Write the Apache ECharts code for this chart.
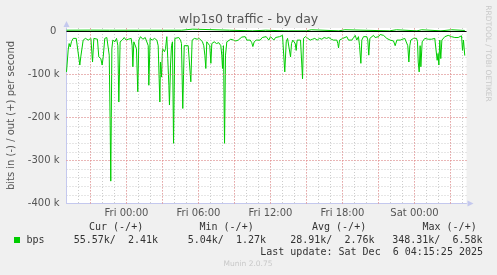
<!DOCTYPE html>
<html><head><meta charset="utf-8">
<script src="https://cdn.jsdelivr.net/npm/echarts@6/dist/echarts.min.js"></script>
<style>html,body{margin:0;padding:0;background:#f0f0f0;}#c{width:497px;height:275px;}</style>
</head><body><div id="c"></div>
<script>
const titleText = 'wlp1s0 traffic - by day';
const yAxisTitle = 'bits in (-) / out (+) per second';
const sideText = 'RRDTOOL / TOBI OETIKER';
// time in hours relative to Fri 00:00
const xMinHours = -5;
const xMaxHours = 28.3333;
const inHours = [-5.00,-4.86,-4.78,-4.69,-4.58,-4.44,-4.36,-4.19,-4.03,-3.89,-3.81,-3.72,-3.61,-3.42,-3.19,-2.97,-2.83,-2.72,-2.56,-2.42,-2.31,-2.14,-2.03,-1.94,-1.81,-1.64,-1.53,-1.44,-1.36,-1.31,-1.22,-1.14,-0.97,-0.83,-0.72,-0.64,-0.53,-0.36,-0.19,-0.03,0.14,0.25,0.39,0.47,0.53,0.61,0.75,0.83,0.94,1.03,1.17,1.36,1.56,1.72,1.81,1.86,1.97,2.14,2.33,2.53,2.64,2.72,2.78,2.83,2.92,3.00,3.08,3.17,3.25,3.36,3.44,3.53,3.58,3.67,3.75,3.83,3.92,4.03,4.19,4.36,4.50,4.58,4.69,4.81,4.97,5.14,5.25,5.36,5.47,5.67,5.89,6.06,6.19,6.33,6.44,6.53,6.61,6.69,6.83,6.94,7.03,7.11,7.31,7.50,7.69,7.86,7.94,8.00,8.08,8.17,8.25,8.36,8.47,8.69,8.92,9.11,9.31,9.47,9.61,9.75,9.89,10.03,10.17,10.31,10.44,10.53,10.64,10.81,10.97,11.14,11.31,11.47,11.64,11.86,12.00,12.14,12.28,12.42,12.58,12.75,12.89,13.00,13.11,13.19,13.31,13.42,13.56,13.67,13.75,13.86,13.97,14.06,14.14,14.22,14.36,14.50,14.58,14.67,14.75,14.92,15.11,15.31,15.50,15.69,15.89,16.08,16.28,16.47,16.67,16.86,17.06,17.25,17.39,17.53,17.61,17.67,17.75,17.86,18.03,18.19,18.36,18.50,18.64,18.78,18.92,19.06,19.19,19.33,19.42,19.53,19.61,19.75,19.89,20.03,20.11,20.19,20.28,20.44,20.58,20.72,20.86,21.00,21.14,21.28,21.42,21.56,21.69,21.83,21.97,22.11,22.25,22.39,22.53,22.67,22.81,22.97,23.19,23.33,23.44,23.53,23.61,23.69,23.81,23.92,24.06,24.17,24.25,24.31,24.39,24.47,24.53,24.64,24.75,24.86,25.00,25.14,25.28,25.42,25.56,25.69,25.81,25.89,25.97,26.03,26.11,26.19,26.28,26.39,26.53,26.67,26.81,26.94,27.08,27.22,27.36,27.50,27.64,27.78,27.92,28.00,28.08,28.19];
// incoming rate, kbit/s (drawn as negative)
const inRateK = [94,43,28,36,23,16,12,16,20,78,59,63,20,16,20,16,71,16,14,18,59,63,78,59,16,14,18,55,218,348,40,20,24,16,33,164,24,20,14,20,18,20,16,33,82,24,24,40,140,20,12,18,14,12,33,125,16,20,16,20,33,109,164,71,106,40,36,47,40,12,63,125,171,78,33,24,260,16,12,14,20,28,179,33,31,33,35,117,20,16,18,16,20,24,33,55,86,24,24,33,74,28,24,28,26,33,55,86,33,260,55,24,20,18,20,22,20,18,13,16,12,20,24,20,26,35,24,20,18,20,14,16,12,20,12,16,20,14,16,12,16,9,10,94,24,16,20,59,28,20,16,28,44,20,16,20,24,110,16,12,16,20,18,16,20,16,18,14,16,14,18,20,16,20,28,38,20,24,16,20,12,20,16,20,14,9,20,12,33,74,20,12,16,12,20,55,16,12,9,14,16,12,7,5,9,12,16,20,20,18,22,33,20,16,20,16,16,20,33,71,33,20,24,16,20,16,24,71,94,33,82,24,20,16,20,18,20,18,22,16,20,67,51,78,20,63,20,16,12,10,9,9,12,16,14,12,14,12,10,44,20,56];
const outHours = [-5,-3,-1.4,-1.3,-1.2,1,3,4.6,4.7,5.5,5.6,8.6,8.7,10.5,10.6,11.6,11.7,13.2,13.3,13.5,15.0,15.1,15.4,15.5,17.7,17.8,18.2,18.3,21.9,22.0,22.5,22.6,24.2,24.3,24.6,24.7,26.2,26.3,27.1,27.2,28.19];
const outRateK = [3,3.2,3,6.5,3,3,3,3,5.5,5.5,3,3,1.5,1.5,3,3,1.5,1.5,4,1.5,1.5,4,4,1.5,1.5,4,4,1.5,1.5,4,4,1.5,1.5,4,4,1.5,1.5,4,4,1.5,2.4];
const xTickHours = [0,6,12,18,24];
const xTickLabels = ['Fri 00:00','Fri 06:00','Fri 12:00','Fri 18:00','Sat 00:00'];
const xMajorGridHours = [-3,0,3,6,9,12,15,18,21,24,27];
const yTickValuesK = [0,-100,-200,-300,-400];
const yTickLabels = ['0 ','-100 k','-200 k','-300 k','-400 k'];
const yMajorGridK = [-100,-200,-300];
const legendName = 'bps';
const legendHeaders = ['Cur (-/+)','Min (-/+)','Avg (-/+)','Max (-/+)'];
const legendIn = ['55.57k','5.04k','28.91k','348.31k'];
const legendOut = ['2.41k','1.27k','2.76k','6.58k'];
const lastUpdate = 'Last update: Sat Dec  6 04:15:25 2025';
const versionText = 'Munin 2.0.75';

const GREEN = '#00cc00', GRAY = '#cccccc', RED = '#ee8888', AXIS = '#c4c8ee';
const TXT = '#555', MONO = '10px "DejaVu Sans Mono"';
const near = (a, b) => Math.abs(a - b) < 1e-6;

const chart = echarts.init(document.getElementById('c'), null, {renderer: 'canvas'});
const headerX = [89, 199.5, 312, 422.5];
const valueRight = [158, 266, 374.5, 482.5];
const center = {align:'center', verticalAlign:'middle', textAlign:'center', textVerticalAlign:'middle'};
const leftMid = {align:'left', verticalAlign:'middle', textAlign:'left', textVerticalAlign:'middle'};
const rightMid = {align:'right', verticalAlign:'middle', textAlign:'right', textVerticalAlign:'middle'};
const graphics = [
  {type:'text', x:248.5, y:19.5, style:Object.assign({text:titleText, font:'12.5px "DejaVu Sans"', fill:TXT}, center)},
  {type:'text', x:11, y:115.5, rotation:Math.PI/2, style:Object.assign({text:yAxisTitle, font:'10px "DejaVu Sans"', fill:TXT}, center)},
  {type:'text', x:487.5, y:53.5, rotation:-Math.PI/2, style:Object.assign({text:sideText, font:'7.5px "DejaVu Sans"', fill:'#c8c8c8'}, center)},
  {type:'rect', shape:{x:14, y:237, width:6, height:6}, style:{fill:GREEN}},
  {type:'text', x:26.5, y:240, style:Object.assign({text:legendName, font:MONO, fill:'#333'}, leftMid)},
  {type:'text', x:483, y:252, style:Object.assign({text:lastUpdate, font:MONO, fill:'#333'}, rightMid)},
  {type:'text', x:248, y:264, style:Object.assign({text:versionText, font:'7.5px "DejaVu Sans"', fill:'#c8c8c8'}, center)}
];
legendHeaders.forEach((h, i) => {
  graphics.push({type:'text', x:headerX[i], y:227.5, style:Object.assign({text:h, font:MONO, fill:'#333'}, leftMid)});
  graphics.push({type:'text', x:valueRight[i], y:240, style:Object.assign({text:legendIn[i] + '/  ' + legendOut[i], font:MONO, fill:'#333'}, rightMid)});
});

chart.setOption({
  animation: false,
  backgroundColor: '#f0f0f0',
  grid: {left:66.5, right:30.5, top:28, bottom:71.5, show:true, backgroundColor:'#ffffff', borderWidth:0},
  xAxis: {
    type:'value', min:xMinHours, max:xMaxHours, interval:1, position:'bottom',
    axisLine:{show:true, onZero:false, lineStyle:{color:AXIS, width:1}, symbol:['none','triangle'], symbolSize:[6,6], symbolOffset:[0,4]},
    axisTick:{show:false},
    axisLabel:{color:TXT, fontFamily:'DejaVu Sans', fontSize:10, margin:5,
      formatter: v => { const i = xTickHours.findIndex(t => near(t, v)); return i >= 0 ? xTickLabels[i] : ''; }},
    splitLine:{show:true, showMinLine:false, showMaxLine:false, lineStyle:{color:GRAY, type:[1,2], width:1}}
  },
  yAxis: {
    type:'value', min:-400, max:350/43, interval:20,
    axisLine:{show:true, onZero:false, lineStyle:{color:AXIS, width:1}, symbol:['none','triangle'], symbolSize:[6,6], symbolOffset:[0,4]},
    axisTick:{show:false},
    axisLabel:{color:TXT, fontFamily:'DejaVu Sans', fontSize:10, margin:7,
      formatter: v => { const i = yTickValuesK.findIndex(t => near(t, v)); return i >= 0 ? yTickLabels[i] : ''; }},
    splitLine:{show:true, showMinLine:false, showMaxLine:false, lineStyle:{color:GRAY, type:[1,2], width:1}}
  },
  series: [
    {type:'line', data:[], z:1, silent:true,
      markLine:{silent:true, symbol:'none', label:{show:false}, animation:false,
        lineStyle:{color:RED, type:[1,2], width:1},
        data: xMajorGridHours.map(h => ({xAxis:h})).concat(yMajorGridK.map(v => ({yAxis:v})))}},
    {type:'line', data:[], z:2, silent:true,
      markLine:{silent:true, symbol:'none', label:{show:false}, animation:false,
        lineStyle:{color:'#000', type:'solid', width:1}, data:[{yAxis:0}]}},
    {type:'line', data: inHours.map((h, i) => [h, -inRateK[i]]), showSymbol:false, symbol:'none',
      lineStyle:{color:GREEN, width:1}, z:3},
    {type:'line', data: outHours.map((h, i) => [h, outRateK[i]]), showSymbol:false, symbol:'none',
      lineStyle:{color:GREEN, width:1}, z:4}
  ],
  graphic: graphics
});
</script></body></html>
